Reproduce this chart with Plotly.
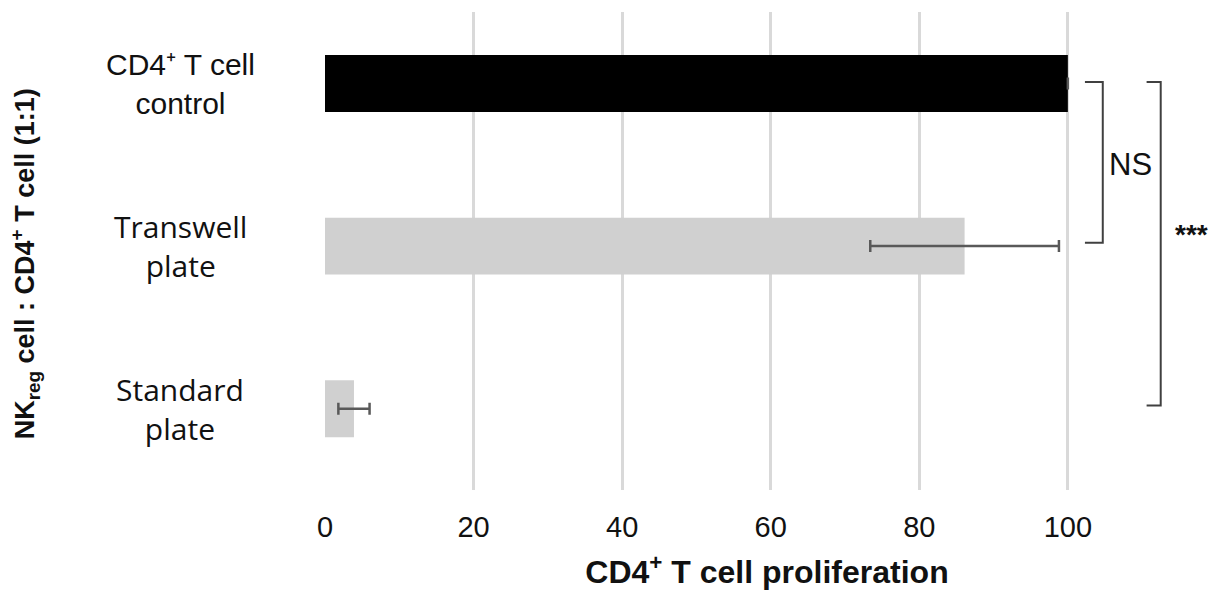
import plotly.graph_objects as go

# Groups (top to bottom) and proliferation values
categories = ["CD4⁺ T cell<br>control", "Transwell<br>plate", "Standard<br>plate"]
proliferation = [100, 86.1, 3.9]
errors = [0, 12.7, 2.1]
bar_colors = ["#000000", "#d0d0d0", "#d0d0d0"]
x_ticks = [0, 20, 40, 60, 80, 100]

# Significance brackets: (from group, to group, label)
comparisons = [(0, 1, "NS"), (0, 2, "<b>***</b>")]

fig = go.Figure()
fig.add_trace(go.Bar(
    y=list(range(len(categories))),
    x=proliferation,
    orientation="h",
    width=0.35,
    marker=dict(color=bar_colors, line=dict(width=0)),
    error_x=dict(type="data", array=errors, color="#595959", thickness=2.5, width=6),
    showlegend=False,
))

# Category labels, centred in the left margin
label_fonts = ["Liberation Sans", "Open Sans", "Open Sans"]
for i, (lab, fam) in enumerate(zip(categories, label_fonts)):
    fig.add_annotation(
        x=-0.164, xref="paper", y=i, yref="y",
        text=lab, showarrow=False, align="center",
        xanchor="center", yanchor="middle",
        font=dict(family=fam, size=30, color="#111111"),
    )

# Brackets with significance labels
bracket_x = [(102.3, 104.7, 108.4), (110.6, 112.5, 116.7)]
label_y = [0.5, 0.93]
for (a, b, lab), (x0, x1, xt), yt in zip(comparisons, bracket_x, label_y):
    fig.add_shape(
        type="path",
        path=f"M {x0},{a - 0.01} L {x1},{a - 0.01} L {x1},{b - 0.02} L {x0},{b - 0.02}",
        xref="x", yref="y",
        line=dict(color="#404040", width=2),
    )
    fig.add_annotation(
        x=xt, y=yt, xref="x", yref="y", text=lab, showarrow=False,
        font=dict(family="Liberation Sans", size=31 if lab == "NS" else 28, color="#111111"),
    )

fig.update_layout(
    width=1215, height=590,
    margin=dict(l=325, r=6, t=12, b=100),
    plot_bgcolor="white", paper_bgcolor="white",
    xaxis=dict(
        range=[0, 119], tickvals=x_ticks, showgrid=True,
        gridcolor="#d9d9d9", gridwidth=2.5, zeroline=False,
        showline=False, ticks="", ticklabelstandoff=17,
        tickfont=dict(family="Liberation Sans", size=29, color="#111111"),
        title=dict(text="<b>CD4<sup>+</sup> T cell proliferation</b>",
                   font=dict(family="Liberation Sans", size=32, color="#111111"),
                   standoff=19),
    ),
    yaxis=dict(
        range=[2.5, -0.44], showticklabels=False, showgrid=False,
        zeroline=False, showline=False, ticks="",
    ),
)

# Rotated y-axis title
fig.add_annotation(
    x=-0.34, xref="paper", y=0.473, yref="paper",
    text="<b>NK<sub>reg</sub> cell : CD4<sup>+</sup> T cell (1:1)</b>",
    showarrow=False, textangle=-90, xanchor="center", yanchor="middle",
    font=dict(family="Liberation Sans", size=27, color="#111111"),
)

fig.write_html("out.html")
